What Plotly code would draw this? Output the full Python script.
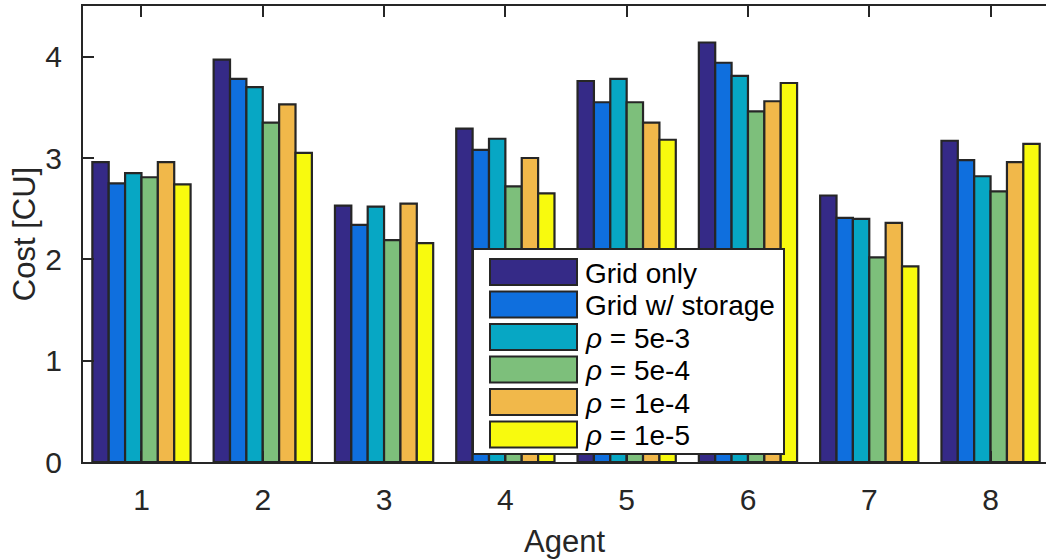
import plotly.graph_objects as go

# ---- data ----
agents = [1, 2, 3, 4, 5, 6, 7, 8]
tick_labels = ["1", "2", "3", "4", "5", "6", "7", "8"]
series_names = ["Grid only", "Grid w/ storage", "<i>ρ</i> = 5e-3",
                "<i>ρ</i> = 5e-4", "<i>ρ</i> = 1e-4", "<i>ρ</i> = 1e-5"]
grid_only = [2.96, 3.97, 2.53, 3.29, 3.76, 4.14, 2.63, 3.17]
grid_storage = [2.75, 3.78, 2.34, 3.08, 3.55, 3.94, 2.41, 2.98]
rho_5e3 = [2.85, 3.70, 2.52, 3.19, 3.78, 3.81, 2.40, 2.82]
rho_5e4 = [2.81, 3.35, 2.19, 2.72, 3.55, 3.46, 2.02, 2.67]
rho_1e4 = [2.96, 3.53, 2.55, 3.00, 3.35, 3.56, 2.36, 2.96]
rho_1e5 = [2.74, 3.05, 2.16, 2.65, 3.18, 3.74, 1.93, 3.14]
series_values = [grid_only, grid_storage, rho_5e3, rho_5e4, rho_1e4, rho_1e5]
colors = ["#352A87", "#0F6FDE", "#07A7C4", "#7DBF7B", "#F1B84A", "#F8FA0E"]

W, H = 1046, 559
ML, MT, MB, MR = 83, 6, 97, 0
FONT = "Liberation Sans, Arial, Helvetica, sans-serif"
EDGE = "#262626"
FS_TICK = 30
FS_TITLE = 31
FS_LEG = 28

fig = go.Figure()
for name, vals, col in zip(series_names, series_values, colors):
    fig.add_trace(go.Bar(x=agents, y=vals, name=name, showlegend=False,
                         marker=dict(color=col, line=dict(color=EDGE, width=2.2))))

# ---- manual MATLAB-style legend (pixel layout -> paper coords) ----
pw, ph = W - ML - MR, H - MT - MB
def px(x):
    return (x - ML) / pw
def py(y):
    return (H - MB - y) / ph

shapes = [dict(type="rect", xref="paper", yref="paper", layer="above",
               x0=px(473), x1=px(784), y0=py(454), y1=py(249),
               fillcolor="white", line=dict(color=EDGE, width=2))]
annotations = []
for i, (name, col) in enumerate(zip(series_names, colors)):
    cy = 272 + i * 32.5
    shapes.append(dict(type="rect", xref="paper", yref="paper", layer="above",
                       x0=px(490), x1=px(577), y0=py(cy + 13), y1=py(cy - 13),
                       fillcolor=col, line=dict(color=EDGE, width=2)))
    annotations.append(dict(xref="paper", yref="paper", x=px(583), y=py(cy + 1),
                            xanchor="left", yanchor="middle", text=name,
                            showarrow=False, font=dict(size=FS_LEG, color="black", family=FONT)))

fig.update_layout(
    width=W, height=H,
    margin=dict(l=ML, r=MR, t=MT, b=MB, pad=0),
    paper_bgcolor="white", plot_bgcolor="white",
    barmode="group", bargap=0.19, bargroupgap=0,
    font=dict(family=FONT, size=FS_TICK, color="#262626"),
    shapes=shapes, annotations=annotations,
    xaxis=dict(range=[0.518, 8.457], tickmode="array", tickvals=agents, ticktext=tick_labels,
               showline=True, linecolor=EDGE, linewidth=2, mirror="ticks",
               ticks="inside", ticklen=11, tickwidth=2, tickcolor=EDGE,
               showgrid=False, zeroline=False, ticklabelstandoff=10,
               tickfont=dict(size=FS_TICK),
               title=dict(text="Agent", standoff=15, font=dict(size=FS_TITLE, color="#262626"))),
    yaxis=dict(range=[0, 4.5], tickmode="array", tickvals=[0, 1, 2, 3, 4],
               showline=True, linecolor=EDGE, linewidth=2, mirror=False,
               ticks="inside", ticklen=11, tickwidth=2, tickcolor=EDGE,
               showgrid=False, zeroline=False, ticklabelstandoff=13,
               tickfont=dict(size=FS_TICK),
               title=dict(text="Cost [CU]", standoff=0, font=dict(size=FS_TITLE, color="#262626"))),
)

fig.write_html("out.html")
